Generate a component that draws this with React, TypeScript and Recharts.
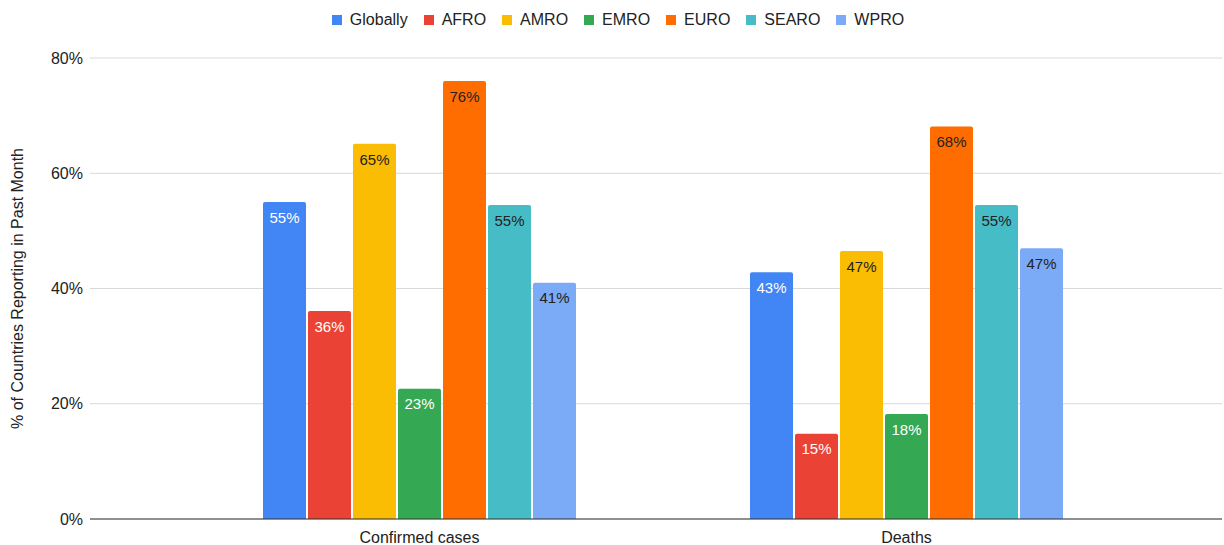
import React from 'react'
import { BarChart, Bar, XAxis, YAxis, CartesianGrid, LabelList } from 'recharts'

const categories = ['Confirmed cases', 'Deaths']
const seriesNames = ['Globally', 'AFRO', 'AMRO', 'EMRO', 'EURO', 'SEARO', 'WPRO']
const seriesColors = ['#4285F4', '#EA4335', '#FBBC04', '#34A853', '#FF6D01', '#46BDC6', '#7BAAF7']
const labelColors = ['#ffffff', '#ffffff', '#222222', '#ffffff', '#222222', '#222222', '#222222']

const globally = [55.0, 42.8]
const afro = [36.1, 14.8]
const amro = [65.1, 46.5]
const emro = [22.6, 18.2]
const euro = [76.0, 68.1]
const searo = [54.5, 54.5]
const wpro = [41.0, 47.0]

const yTicks = [0, 20, 40, 60, 80]

const seriesValues = [globally, afro, amro, emro, euro, searo, wpro]

const data = categories.map((name, i) => {
  const row: Record<string, string | number> = { name }
  seriesNames.forEach((s, j) => {
    row[s] = seriesValues[j][i]
  })
  return row
})

const font = '"Liberation Sans", Arial, sans-serif'

function Legend() {
  return (
    <div
      style={{
        position: 'absolute',
        top: 11,
        left: 6,
        width: 1224,
        display: 'flex',
        justifyContent: 'center',
        fontFamily: font,
        fontSize: 16,
        color: '#222',
        lineHeight: '18px'
      }}
    >
      {seriesNames.map((s, i) => (
        <div key={s} style={{ display: 'flex', alignItems: 'center', marginRight: i < seriesNames.length - 1 ? 16 : 0 }}>
          <span style={{ width: 10, height: 10, background: seriesColors[i], marginRight: 8, display: 'inline-block' }} />
          <span>{s}</span>
        </div>
      ))}
    </div>
  )
}

export default function App() {
  return (
    <div style={{ position: 'absolute', left: 0, top: 0, width: 1224, height: 545, background: '#fff' }}>
      <Legend />
      <BarChart
        width={1224}
        height={545}
        data={data}
        margin={{ top: 58, right: 2, left: 0, bottom: 0 }}
        barCategoryGap={87}
        barGap={2}
      >
        <CartesianGrid vertical={false} stroke="#d9d9d9" />
        <XAxis
          dataKey="name"
          height={26}
          padding={{ left: 86, right: 72 }}
          tickLine={false}
          axisLine={{ stroke: '#333' }}
          tick={{ fontFamily: font, fontSize: 16, fill: '#222' }}
          tickMargin={7}
        />
        <YAxis
          width={90}
          domain={[0, 80]}
          ticks={yTicks}
          tickFormatter={(v: number) => `${v}%`}
          tickLine={false}
          axisLine={false}
          tick={{ fontFamily: font, fontSize: 16, fill: '#222' }}
          tickMargin={1}
          label={{
            value: '% of Countries Reporting in Past Month',
            angle: -90,
            position: 'insideLeft',
            offset: 17,
            style: { fontFamily: font, fontSize: 16, fill: '#222', textAnchor: 'middle' }
          }}
        />
        {seriesNames.map((s, i) => (
          <Bar
            key={s}
            dataKey={s}
            fill={seriesColors[i]}
            barSize={43}
            radius={[2, 2, 0, 0]}
            isAnimationActive={false}
          >
            <LabelList
              dataKey={s}
              position="insideTop"
              offset={10}
              formatter={(v: number) => `${Math.round(v)}%`}
              style={{ fontFamily: font, fontSize: 15, fill: labelColors[i] }}
            />
          </Bar>
        ))}
      </BarChart>
    </div>
  )
}
